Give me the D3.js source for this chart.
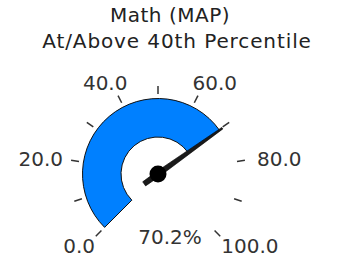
<!DOCTYPE html>
<html>
<head>
<meta charset="utf-8">
<script src="https://cdn.jsdelivr.net/npm/d3@7"></script>
<style>
  html, body { margin: 0; padding: 0; background: #fff; }
  svg { display: block; }
</style>
</head>
<body>
<svg id="chart" width="339" height="258"></svg>
<script>
// ---- data ----
const titleLines = ["Math (MAP)", "At/Above 40th Percentile"];
const domainMin = 0;
const domainMax = 100;
const tickValues = [0, 10, 20, 30, 40, 50, 60, 70, 80, 90, 100];
const labelValues = [0, 20, 40, 60, 80, 100];
const labelTexts = ["0.0", "20.0", "40.0", "60.0", "80.0", "100.0"];
const gaugeValue = 70.2;
const valueLabel = "70.2%";

// ---- layout ----
const W = 339, H = 258;
const svg = d3.select("#chart");
const cx = 158, cy = 174;
const innerR = 37, outerR = 75.5;
const tickR0 = 80, tickR1 = 88;
const labelR = 98.5;
const font = "'DejaVu Sans', Verdana, sans-serif";

const angle = d3.scaleLinear().domain([domainMin, domainMax]).range([-135, 135]);
const rad = d => d * Math.PI / 180;

// title
const titleX = [170, 177];
const titleSpacing = [0.5, 0.9];
svg.append("g").selectAll("text").data(titleLines).join("text")
  .attr("x", (d, i) => titleX[i])
  .attr("y", (d, i) => 22 + i * 26)
  .attr("text-anchor", "middle")
  .style("font-family", font)
  .style("font-size", "20px")
  .style("letter-spacing", (d, i) => titleSpacing[i] + "px")
  .style("fill", "#222")
  .text(d => d);

const g = svg.append("g");

// band
const arc = d3.arc()
  .innerRadius(innerR).outerRadius(outerR)
  .startAngle(rad(angle(domainMin)))
  .endAngle(rad(angle(gaugeValue)));
g.append("path")
  .attr("transform", `translate(${cx},${cy})`)
  .attr("d", arc())
  .attr("fill", "#0080ff")
  .attr("stroke", "#111")
  .attr("stroke-width", 1);

// ticks
g.append("g").selectAll("line").data(tickValues).join("line")
  .attr("x1", d => cx + tickR0 * Math.sin(rad(angle(d))))
  .attr("y1", d => cy - tickR0 * Math.cos(rad(angle(d))))
  .attr("x2", d => cx + tickR1 * Math.sin(rad(angle(d))))
  .attr("y2", d => cy - tickR1 * Math.cos(rad(angle(d))))
  .attr("stroke", "#333")
  .attr("stroke-width", 1.5);

// tick labels
g.append("g").selectAll("text").data(labelValues).join("text")
  .attr("text-anchor", "middle")
  .attr("dominant-baseline", "central")
  .style("font-family", font)
  .style("font-size", "20px")
  .style("fill", "#333")
  .text((d, i) => labelTexts[i])
  .each(function(d) {
    const w = this.getComputedTextLength();
    const a = rad(angle(d));
    const sel = d3.select(this)
      .attr("x", cx + 2 + (labelR + w / 2) * Math.sin(a))
      .attr("y", cy + 1 - (labelR + 5) * Math.cos(a));
    const bb = this.getBBox();
    const overflow = bb.y + bb.height - (H - 0.5);
    if (overflow > 0) sel.attr("y", +sel.attr("y") - overflow);
  });

// needle
const a = rad(angle(gaugeValue));
const tipR = 79, tailR = -17;
const pt = (r, off) => [cx + r * Math.sin(a) + off * Math.cos(a), cy - r * Math.cos(a) + off * Math.sin(a)];
const needle = [pt(tipR, -0.9), pt(tipR, 0.9), pt(0, 2.8), pt(tailR, 2.5), pt(tailR, -2.5), pt(0, -2.8)];
g.append("path")
  .attr("d", d3.line()(needle) + "Z")
  .attr("fill", "#1a1a1a")
  .attr("stroke", "#000")
  .attr("stroke-width", 0.6)
  .attr("stroke-linejoin", "round");
g.append("circle")
  .attr("cx", cx).attr("cy", cy).attr("r", 8.5)
  .attr("fill", "#000");

// value label
g.append("text")
  .attr("x", cx + 12)
  .attr("y", cy + 63)
  .attr("text-anchor", "middle")
  .attr("dominant-baseline", "central")
  .style("font-family", font)
  .style("font-size", "20px")
  .style("fill", "#333")
  .text(valueLabel);
</script>
</body>
</html>
